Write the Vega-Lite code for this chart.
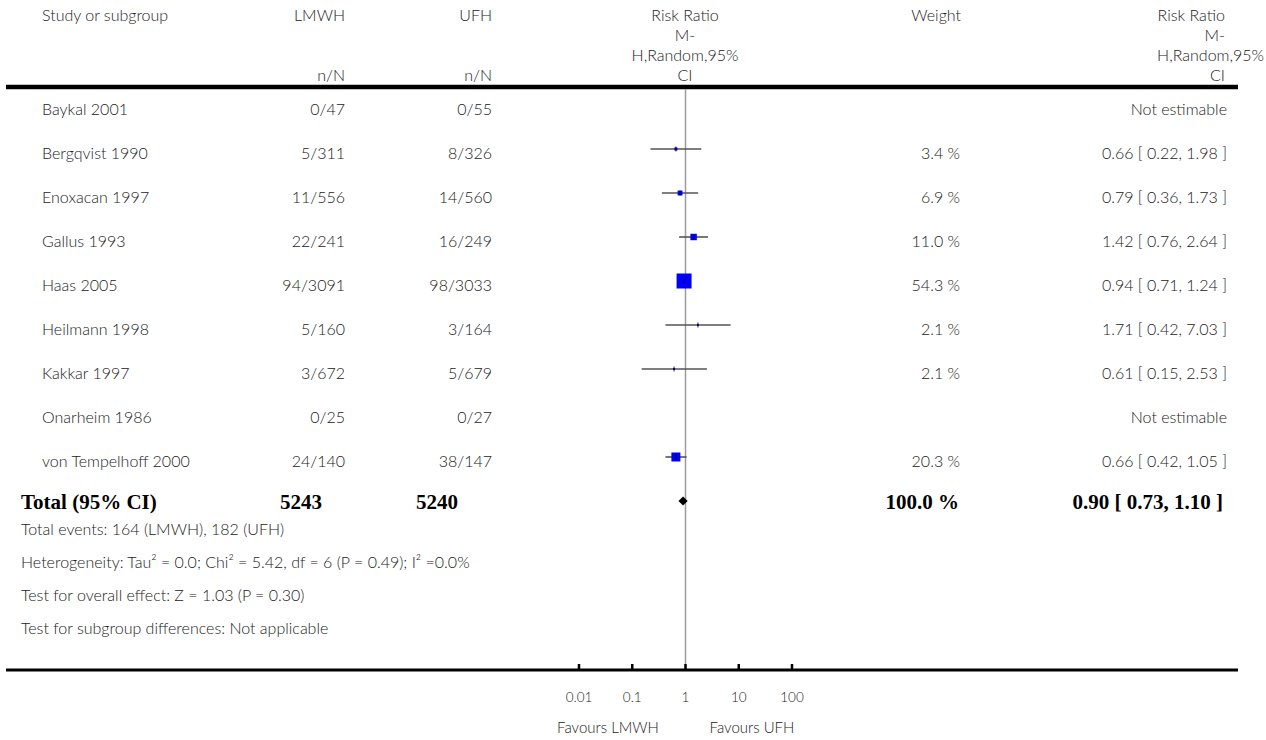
{
  "$schema": "https://vega.github.io/schema/vega-lite/v6.json",
  "width": 1266,
  "height": 740,
  "autosize": {"type": "none"},
  "padding": 0,
  "background": "white",
  "config": {
    "view": {"stroke": null},
    "text": {"font": "Lato", "fontSize": 16, "fontWeight": 300, "color": "#222222", "baseline": "middle"}
  },
  "datasets": {
    "frame": [{"part": "frame"}],
    "studies": [
      {"row": 1, "study": "Baykal 2001", "lmwh": "0/47", "ufh": "0/55", "rr": null, "lo": null, "hi": null, "weight": null, "wtext": "", "rrtext": "Not estimable"},
      {"row": 2, "study": "Bergqvist 1990", "lmwh": "5/311", "ufh": "8/326", "rr": 0.66, "lo": 0.22, "hi": 1.98, "weight": 3.4, "wtext": "3.4 %", "rrtext": "0.66 [ 0.22, 1.98 ]"},
      {"row": 3, "study": "Enoxacan 1997", "lmwh": "11/556", "ufh": "14/560", "rr": 0.79, "lo": 0.36, "hi": 1.73, "weight": 6.9, "wtext": "6.9 %", "rrtext": "0.79 [ 0.36, 1.73 ]"},
      {"row": 4, "study": "Gallus 1993", "lmwh": "22/241", "ufh": "16/249", "rr": 1.42, "lo": 0.76, "hi": 2.64, "weight": 11.0, "wtext": "11.0 %", "rrtext": "1.42 [ 0.76, 2.64 ]"},
      {"row": 5, "study": "Haas 2005", "lmwh": "94/3091", "ufh": "98/3033", "rr": 0.94, "lo": 0.71, "hi": 1.24, "weight": 54.3, "wtext": "54.3 %", "rrtext": "0.94 [ 0.71, 1.24 ]"},
      {"row": 6, "study": "Heilmann 1998", "lmwh": "5/160", "ufh": "3/164", "rr": 1.71, "lo": 0.42, "hi": 7.03, "weight": 2.1, "wtext": "2.1 %", "rrtext": "1.71 [ 0.42, 7.03 ]"},
      {"row": 7, "study": "Kakkar 1997", "lmwh": "3/672", "ufh": "5/679", "rr": 0.61, "lo": 0.15, "hi": 2.53, "weight": 2.1, "wtext": "2.1 %", "rrtext": "0.61 [ 0.15, 2.53 ]"},
      {"row": 8, "study": "Onarheim 1986", "lmwh": "0/25", "ufh": "0/27", "rr": null, "lo": null, "hi": null, "weight": null, "wtext": "", "rrtext": "Not estimable"},
      {"row": 9, "study": "von Tempelhoff 2000", "lmwh": "24/140", "ufh": "38/147", "rr": 0.66, "lo": 0.42, "hi": 1.05, "weight": 20.3, "wtext": "20.3 %", "rrtext": "0.66 [ 0.42, 1.05 ]"}
    ],
    "total": [
      {"row": 10, "label": "Total (95% CI)", "n1": "5243", "n2": "5240", "est": 0.90, "lo": 0.73, "hi": 1.10, "wtext": "100.0 %", "rrtext": "0.90 [ 0.73, 1.10 ]"}
    ],
    "footer": [
      {"line": 1, "text": "Total events: 164 (LMWH), 182 (UFH)"},
      {"line": 2, "text": "Heterogeneity: Tau² = 0.0; Chi² = 5.42, df = 6 (P = 0.49); I² =0.0%"},
      {"line": 3, "text": "Test for overall effect: Z = 1.03 (P = 0.30)"},
      {"line": 4, "text": "Test for subgroup differences: Not applicable"}
    ],
    "header": [
      {"col": "study", "line": 1, "text": "Study or subgroup"},
      {"col": "lmwh", "line": 1, "text": "LMWH"},
      {"col": "lmwh", "line": 4, "text": "n/N"},
      {"col": "ufh", "line": 1, "text": "UFH"},
      {"col": "ufh", "line": 4, "text": "n/N"},
      {"col": "plot", "line": 1, "text": "Risk Ratio"},
      {"col": "plot", "line": 2, "text": "M-"},
      {"col": "plot", "line": 3, "text": "H,Random,95%"},
      {"col": "plot", "line": 4, "text": "CI"},
      {"col": "weight", "line": 1, "text": "Weight"},
      {"col": "rr", "line": 1, "text": "Risk Ratio"},
      {"col": "rr", "line": 2, "text": "M-"},
      {"col": "rrwide", "line": 3, "text": "H,Random,95%"},
      {"col": "rr", "line": 4, "text": "CI"}
    ],
    "ticks": [
      {"v": 0.01, "label": "0.01"},
      {"v": 0.1, "label": "0.1"},
      {"v": 1, "label": "1"},
      {"v": 10, "label": "10"},
      {"v": 100, "label": "100"}
    ],
    "favours": [
      {"side": "left", "label": "Favours LMWH"},
      {"side": "right", "label": "Favours UFH"}
    ]
  },
  "resolve": {"scale": {"x": "independent", "y": "independent"}},
  "layer": [
    {
      "data": {"name": "frame"},
      "mark": {"type": "rule", "color": "black", "strokeWidth": 4.5},
      "encoding": {"x": {"value": 6}, "x2": {"value": 1238}, "y": {"value": 87}}
    },
    {
      "data": {"name": "frame"},
      "mark": {"type": "rule", "color": "#9c9c9c", "strokeWidth": 1.5},
      "encoding": {
        "x": {"datum": 1, "type": "quantitative", "scale": {"type": "log", "domain": [0.01, 100], "range": [579, 792], "nice": false}, "axis": null},
        "y": {"value": 89},
        "y2": {"value": 669}
      }
    },
    {
      "data": {"name": "frame"},
      "mark": {"type": "rule", "color": "black", "strokeWidth": 3},
      "encoding": {"x": {"value": 6}, "x2": {"value": 1238}, "y": {"value": 670}}
    },
    {
      "data": {"name": "ticks"},
      "mark": {"type": "rule", "color": "black", "strokeWidth": 2.5},
      "encoding": {
        "x": {"field": "v", "type": "quantitative", "scale": {"type": "log", "domain": [0.01, 100], "range": [579, 792], "nice": false}, "axis": null},
        "y": {"value": 664},
        "y2": {"value": 670}
      }
    },
    {
      "data": {"name": "ticks"},
      "mark": {"type": "text", "fontSize": 13.5, "align": "center"},
      "encoding": {
        "x": {"field": "v", "type": "quantitative", "scale": {"type": "log", "domain": [0.01, 100], "range": [579, 792], "nice": false}, "axis": null},
        "y": {"value": 698},
        "text": {"field": "label"}
      }
    },
    {
      "data": {"name": "favours"},
      "transform": [{"filter": "datum.side == 'left'"}],
      "mark": {"type": "text", "fontSize": 15, "align": "center"},
      "encoding": {"x": {"value": 608}, "y": {"value": 728}, "text": {"field": "label"}}
    },
    {
      "data": {"name": "favours"},
      "transform": [{"filter": "datum.side == 'right'"}],
      "mark": {"type": "text", "fontSize": 15, "align": "center"},
      "encoding": {"x": {"value": 752}, "y": {"value": 728}, "text": {"field": "label"}}
    },
    {
      "data": {"name": "studies"},
      "mark": {"type": "rule", "color": "#555555", "strokeWidth": 1.6},
      "encoding": {
        "x": {"field": "lo", "type": "quantitative", "scale": {"type": "log", "domain": [0.01, 100], "range": [579, 792], "nice": false}, "axis": null},
        "x2": {"field": "hi"},
        "y": {"field": "row", "type": "quantitative", "scale": {"domain": [1, 10], "range": [105, 501], "nice": false, "zero": false}, "axis": null}
      }
    },
    {
      "data": {"name": "studies"},
      "mark": {"type": "square", "filled": true, "color": "#0000ff", "opacity": 1},
      "encoding": {
        "x": {"field": "rr", "type": "quantitative", "scale": {"type": "log", "domain": [0.01, 100], "range": [579, 792], "nice": false}, "axis": null},
        "y": {"field": "row", "type": "quantitative", "scale": {"domain": [1, 10], "range": [105, 501], "nice": false, "zero": false}, "axis": null},
        "size": {"field": "weight", "type": "quantitative", "scale": {"domain": [1.2, 54.3], "range": [0, 225], "zero": false, "clamp": true}, "legend": null}
      }
    },
    {
      "data": {"name": "studies"},
      "mark": {"type": "tick", "orient": "vertical", "size": 5, "thickness": 1.2, "color": "black"},
      "encoding": {
        "x": {"field": "rr", "type": "quantitative", "scale": {"type": "log", "domain": [0.01, 100], "range": [579, 792], "nice": false}, "axis": null},
        "y": {"field": "row", "type": "quantitative", "scale": {"domain": [1, 10], "range": [105, 501], "nice": false, "zero": false}, "axis": null}
      }
    },
    {
      "data": {"name": "total"},
      "mark": {"type": "point", "shape": "diamond", "filled": true, "color": "black", "opacity": 1, "size": 85},
      "encoding": {
        "x": {"field": "est", "type": "quantitative", "scale": {"type": "log", "domain": [0.01, 100], "range": [579, 792], "nice": false}, "axis": null},
        "y": {"field": "row", "type": "quantitative", "scale": {"domain": [1, 10], "range": [105, 501], "nice": false, "zero": false}, "axis": null}
      }
    },
    {
      "data": {"name": "studies"},
      "mark": {"type": "text", "align": "left", "dy": 5},
      "encoding": {
        "x": {"value": 42},
        "y": {"field": "row", "type": "quantitative", "scale": {"domain": [1, 10], "range": [105, 501], "nice": false, "zero": false}, "axis": null},
        "text": {"field": "study"}
      }
    },
    {
      "data": {"name": "studies"},
      "mark": {"type": "text", "align": "right", "dy": 5},
      "encoding": {
        "x": {"value": 345},
        "y": {"field": "row", "type": "quantitative", "scale": {"domain": [1, 10], "range": [105, 501], "nice": false, "zero": false}, "axis": null},
        "text": {"field": "lmwh"}
      }
    },
    {
      "data": {"name": "studies"},
      "mark": {"type": "text", "align": "right", "dy": 5},
      "encoding": {
        "x": {"value": 492},
        "y": {"field": "row", "type": "quantitative", "scale": {"domain": [1, 10], "range": [105, 501], "nice": false, "zero": false}, "axis": null},
        "text": {"field": "ufh"}
      }
    },
    {
      "data": {"name": "studies"},
      "mark": {"type": "text", "align": "right", "dy": 5},
      "encoding": {
        "x": {"value": 960},
        "y": {"field": "row", "type": "quantitative", "scale": {"domain": [1, 10], "range": [105, 501], "nice": false, "zero": false}, "axis": null},
        "text": {"field": "wtext"}
      }
    },
    {
      "data": {"name": "studies"},
      "mark": {"type": "text", "align": "right", "dy": 5},
      "encoding": {
        "x": {"value": 1227},
        "y": {"field": "row", "type": "quantitative", "scale": {"domain": [1, 10], "range": [105, 501], "nice": false, "zero": false}, "axis": null},
        "text": {"field": "rrtext"}
      }
    },
    {
      "data": {"name": "total"},
      "mark": {"type": "text", "align": "left", "dy": 2, "font": "Liberation Serif", "fontWeight": "bold", "fontSize": 21, "color": "black"},
      "encoding": {
        "x": {"value": 21},
        "y": {"field": "row", "type": "quantitative", "scale": {"domain": [1, 10], "range": [105, 501], "nice": false, "zero": false}, "axis": null},
        "text": {"field": "label"}
      }
    },
    {
      "data": {"name": "total"},
      "mark": {"type": "text", "align": "right", "dy": 2, "font": "Liberation Serif", "fontWeight": "bold", "fontSize": 21, "color": "black"},
      "encoding": {
        "x": {"value": 322},
        "y": {"field": "row", "type": "quantitative", "scale": {"domain": [1, 10], "range": [105, 501], "nice": false, "zero": false}, "axis": null},
        "text": {"field": "n1"}
      }
    },
    {
      "data": {"name": "total"},
      "mark": {"type": "text", "align": "right", "dy": 2, "font": "Liberation Serif", "fontWeight": "bold", "fontSize": 21, "color": "black"},
      "encoding": {
        "x": {"value": 458},
        "y": {"field": "row", "type": "quantitative", "scale": {"domain": [1, 10], "range": [105, 501], "nice": false, "zero": false}, "axis": null},
        "text": {"field": "n2"}
      }
    },
    {
      "data": {"name": "total"},
      "mark": {"type": "text", "align": "right", "dy": 2, "font": "Liberation Serif", "fontWeight": "bold", "fontSize": 21, "color": "black"},
      "encoding": {
        "x": {"value": 959},
        "y": {"field": "row", "type": "quantitative", "scale": {"domain": [1, 10], "range": [105, 501], "nice": false, "zero": false}, "axis": null},
        "text": {"field": "wtext"}
      }
    },
    {
      "data": {"name": "total"},
      "mark": {"type": "text", "align": "right", "dy": 2, "font": "Liberation Serif", "fontWeight": "bold", "fontSize": 21, "color": "black"},
      "encoding": {
        "x": {"value": 1223},
        "y": {"field": "row", "type": "quantitative", "scale": {"domain": [1, 10], "range": [105, 501], "nice": false, "zero": false}, "axis": null},
        "text": {"field": "rrtext"}
      }
    },
    {
      "data": {"name": "footer"},
      "mark": {"type": "text", "align": "left"},
      "encoding": {
        "x": {"value": 21},
        "y": {"field": "line", "type": "quantitative", "scale": {"domain": [1, 4], "range": [530, 629], "nice": false, "zero": false}, "axis": null},
        "text": {"field": "text"}
      }
    },
    {
      "data": {"name": "header"},
      "transform": [{"filter": "datum.col == 'study'"}],
      "mark": {"type": "text", "align": "left"},
      "encoding": {
        "x": {"value": 42},
        "y": {"field": "line", "type": "quantitative", "scale": {"domain": [1, 4], "range": [16, 76], "nice": false, "zero": false}, "axis": null},
        "text": {"field": "text"}
      }
    },
    {
      "data": {"name": "header"},
      "transform": [{"filter": "datum.col == 'lmwh'"}],
      "mark": {"type": "text", "align": "right"},
      "encoding": {
        "x": {"value": 345},
        "y": {"field": "line", "type": "quantitative", "scale": {"domain": [1, 4], "range": [16, 76], "nice": false, "zero": false}, "axis": null},
        "text": {"field": "text"}
      }
    },
    {
      "data": {"name": "header"},
      "transform": [{"filter": "datum.col == 'ufh'"}],
      "mark": {"type": "text", "align": "right"},
      "encoding": {
        "x": {"value": 492},
        "y": {"field": "line", "type": "quantitative", "scale": {"domain": [1, 4], "range": [16, 76], "nice": false, "zero": false}, "axis": null},
        "text": {"field": "text"}
      }
    },
    {
      "data": {"name": "header"},
      "transform": [{"filter": "datum.col == 'plot'"}],
      "mark": {"type": "text", "align": "center"},
      "encoding": {
        "x": {"value": 685},
        "y": {"field": "line", "type": "quantitative", "scale": {"domain": [1, 4], "range": [16, 76], "nice": false, "zero": false}, "axis": null},
        "text": {"field": "text"}
      }
    },
    {
      "data": {"name": "header"},
      "transform": [{"filter": "datum.col == 'weight'"}],
      "mark": {"type": "text", "align": "right"},
      "encoding": {
        "x": {"value": 961},
        "y": {"field": "line", "type": "quantitative", "scale": {"domain": [1, 4], "range": [16, 76], "nice": false, "zero": false}, "axis": null},
        "text": {"field": "text"}
      }
    },
    {
      "data": {"name": "header"},
      "transform": [{"filter": "datum.col == 'rr'"}],
      "mark": {"type": "text", "align": "right"},
      "encoding": {
        "x": {"value": 1225},
        "y": {"field": "line", "type": "quantitative", "scale": {"domain": [1, 4], "range": [16, 76], "nice": false, "zero": false}, "axis": null},
        "text": {"field": "text"}
      }
    },
    {
      "data": {"name": "header"},
      "transform": [{"filter": "datum.col == 'rrwide'"}],
      "mark": {"type": "text", "align": "right"},
      "encoding": {
        "x": {"value": 1264},
        "y": {"field": "line", "type": "quantitative", "scale": {"domain": [1, 4], "range": [16, 76], "nice": false, "zero": false}, "axis": null},
        "text": {"field": "text"}
      }
    }
  ]
}
